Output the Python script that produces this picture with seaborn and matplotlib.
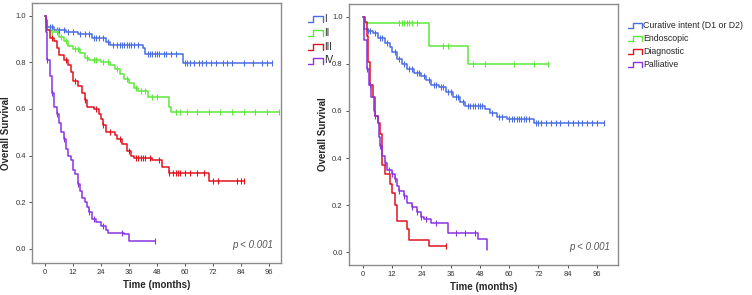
import matplotlib
matplotlib.use("Agg")
import matplotlib.pyplot as plt
import numpy as np
import pandas as pd
import seaborn as sns
from matplotlib.legend_handler import HandlerBase
from matplotlib.lines import Line2D

# ---- left panel: stage ----
stage_labels = ["I", "II", "III", "IV"]
stage_colors = ["#4a6ee0", "#5ee83c", "#e0141e", "#8a35e0"]

stage1_t = [0, 0.5, 4, 9, 14, 20, 26, 28, 42, 43, 59, 97]
stage1_s = [1.0, 0.95, 0.94, 0.93, 0.92, 0.905, 0.885, 0.875, 0.86, 0.835, 0.795, 0.795]
stage1_c = [1, 2, 3, 5, 6, 8, 10, 12, 15, 17, 19, 21, 22, 23, 25, 27, 29, 31, 32, 33, 34, 35, 36, 37, 38,
            40, 44, 45, 46, 47, 48, 49, 51, 52, 54, 56, 60, 61, 62, 64, 66, 67, 69, 71, 73, 76, 78, 80,
            85, 89, 93, 95, 97]

stage2_t = [0, 0.5, 3, 6, 8, 10, 12, 15, 17, 19, 24, 28, 30, 32, 34, 36, 38, 40, 44, 52, 53, 54, 100]
stage2_s = [1.0, 0.94, 0.93, 0.91, 0.89, 0.87, 0.855, 0.84, 0.82, 0.81, 0.80, 0.79, 0.77, 0.75, 0.73,
            0.71, 0.69, 0.675, 0.65, 0.65, 0.61, 0.585, 0.585]
stage2_c = [3, 5, 7, 9, 13, 14, 18, 21, 22, 25, 27, 31, 35, 39, 41, 43, 46, 48, 56, 58, 61, 65, 70,
            75, 80, 85, 90, 95, 100]

stage3_t = [0, 0.5, 1, 2, 4, 5, 6, 8, 10, 11, 12, 14, 16, 17, 18, 21, 23, 24, 25, 26, 30, 31, 33, 35,
            37, 38, 46, 50, 53, 70, 85]
stage3_s = [1.0, 0.98, 0.94, 0.905, 0.89, 0.86, 0.83, 0.81, 0.79, 0.76, 0.72, 0.70, 0.67, 0.64, 0.61,
            0.60, 0.58, 0.555, 0.53, 0.50, 0.49, 0.47, 0.45, 0.42, 0.40, 0.39, 0.38, 0.35, 0.325,
            0.29, 0.29]
stage3_c = [3, 9, 13, 17, 22, 25, 28, 32, 36, 39, 40, 41, 42, 43, 45, 49, 53, 55, 56, 57, 58, 60,
            62, 65, 68, 72, 74, 82, 84, 85]

stage4_t = [0, 0.5, 1, 2, 3, 4, 5, 6, 7, 8, 9, 10, 11, 12, 13, 14, 15, 16, 17, 18, 19, 20, 22, 24, 26,
            27, 34, 36, 47]
stage4_s = [1.0, 0.93, 0.81, 0.74, 0.67, 0.61, 0.58, 0.54, 0.50, 0.47, 0.43, 0.40, 0.38, 0.34, 0.32,
            0.28, 0.25, 0.22, 0.20, 0.18, 0.16, 0.13, 0.115, 0.10, 0.08, 0.07, 0.065, 0.035, 0.035]
stage4_c = [1, 3, 5, 8, 14, 19, 21, 25, 33, 47]

# ---- right panel: treatment ----
treat_labels = ["Curative intent (D1 or D2)", "Endoscopic", "Diagnostic", "Palliative"]
treat_colors = stage_colors

cur_t = [0, 0.5, 2, 4, 6, 9, 11, 12, 14, 16, 18, 21, 24, 26, 28, 31, 34, 37, 40, 42, 50, 52, 55, 59,
         70, 99]
cur_s = [1.0, 0.95, 0.94, 0.93, 0.91, 0.89, 0.87, 0.85, 0.82, 0.80, 0.78, 0.76, 0.75, 0.73, 0.71,
         0.70, 0.68, 0.66, 0.64, 0.62, 0.61, 0.59, 0.575, 0.565, 0.55, 0.55]
cur_c = [2, 3, 5, 7, 8, 10, 13, 15, 17, 19, 20, 22, 23, 25, 27, 29, 30, 32, 33, 35, 36, 38, 39, 41,
         43, 44, 45, 46, 47, 48, 49, 53, 56, 57, 60, 61, 62, 63, 64, 65, 66, 67, 68, 71, 72, 73, 75,
         77, 79, 81, 84, 86, 88, 90, 92, 94, 96, 99]

endo_t = [0, 0.5, 27, 43, 76]
endo_s = [1.0, 0.975, 0.875, 0.80, 0.80]
endo_c = [15, 16, 17, 18, 19, 20, 22, 33, 35, 45, 50, 62, 70, 76]

diag_t = [0, 1, 1.5, 2, 3, 4, 5, 6, 7, 8, 9, 11, 12, 13, 14, 18, 19, 27, 34]
diag_s = [1.0, 0.98, 0.92, 0.81, 0.71, 0.66, 0.58, 0.55, 0.50, 0.37, 0.33, 0.29, 0.25, 0.20, 0.13,
          0.10, 0.05, 0.025, 0.025]
diag_c = [34]

pall_t = [0, 0.5, 1.5, 2.5, 3.5, 4.5, 5, 6, 6.5, 7, 8, 9, 10, 12, 13, 14, 15, 17, 18, 20, 22, 24, 25,
          28, 35, 47, 51]
pall_s = [1.0, 0.90, 0.78, 0.71, 0.66, 0.60, 0.58, 0.55, 0.49, 0.45, 0.41, 0.38, 0.35, 0.33, 0.31,
          0.28, 0.26, 0.24, 0.21, 0.19, 0.17, 0.15, 0.14, 0.125, 0.082, 0.055, 0.01]
pall_c = [1.5, 3, 5, 7, 9, 10.5, 12, 13, 15, 17, 20, 22, 24, 26, 30, 38, 42, 46]

x_ticks = [0, 12, 24, 36, 48, 60, 72, 84, 96]
y_ticks = [0.0, 0.2, 0.4, 0.6, 0.8, 1.0]


class StepHandler(HandlerBase):
    # legend icon drawn as a small step like SPSS does
    def create_artists(self, legend, orig_handle, xd, yd, width, height, fontsize, trans):
        xs = [xd, xd + width * 0.35, xd + width * 0.35, xd + width, xd + width]
        ys = [yd, yd, yd + height, yd + height, yd]
        ln = Line2D(xs, ys, color=orig_handle.get_color(), lw=1.0, transform=trans)
        return [ln]


def km_panel(ax, curves, colors):
    for (t, s, c), col in zip(curves, colors):
        df = pd.DataFrame({"time": t, "surv": s})
        sns.lineplot(data=df, x="time", y="surv", ax=ax, color=col, lw=1.1,
                     drawstyle="steps-post", estimator=None, sort=False, legend=False)
        idx = np.searchsorted(t, c, side="right") - 1
        cs = pd.DataFrame({"time": c, "surv": np.asarray(s)[idx]})
        sns.scatterplot(data=cs, x="time", y="surv", ax=ax, marker="|", s=14,
                        color=col, linewidth=0.8, legend=False, zorder=3)
    ax.set_xticks(x_ticks)
    ax.set_yticks(y_ticks)
    ax.set_yticklabels([f"{v:.1f}" for v in y_ticks])
    ax.tick_params(labelsize=5.5, colors="#333333", length=2.5, width=0.6, pad=2)
    ax.set_xlabel("Time (months)", fontsize=7, fontweight="bold", labelpad=3)
    ax.set_ylabel("Overall Survival", fontsize=7, fontweight="bold", labelpad=3)
    for sp in ax.spines.values():
        sp.set_color("#8c8c8c")
        sp.set_linewidth(1.0)
    ax.text(0.97, 0.05, "p < 0.001", transform=ax.transAxes, ha="right", va="bottom",
            fontsize=7, style="italic", color="#555555")
    return [Line2D([], [], color=c) for c in colors]


sns.set_style("ticks")
plt.rcParams["font.family"] = ["Liberation Sans", "DejaVu Sans"]

fig = plt.figure(figsize=(7.52, 2.95), dpi=100)
ax1 = fig.add_axes([32 / 752, 32 / 295, 249 / 752, 260 / 295])
ax2 = fig.add_axes([349 / 752, 30 / 295, 269 / 752, 261 / 295])

h1 = km_panel(ax1, [(stage1_t, stage1_s, stage1_c), (stage2_t, stage2_s, stage2_c),
                    (stage3_t, stage3_s, stage3_c), (stage4_t, stage4_s, stage4_c)],
              stage_colors)
ax1.set_xlim(-5.5, 101)
ax1.set_ylim(-0.06, 1.054)

h2 = km_panel(ax2, [(cur_t, cur_s, cur_c), (endo_t, endo_s, endo_c),
                    (diag_t, diag_s, diag_c), (pall_t, pall_s, pall_c)],
              treat_colors)
ax2.set_xlim(-5.7, 104.6)
ax2.set_ylim(-0.055, 1.055)

fig.legend(h1, stage_labels, loc="upper left", bbox_to_anchor=(301 / 752, 1 - 7 / 295),
           frameon=False, fontsize=7, handler_map={Line2D: StepHandler()},
           handlelength=1.6, handleheight=0.6, handletextpad=0.1, labelspacing=0.4,
           borderpad=0.2)
fig.legend(h2, treat_labels, loc="upper left", bbox_to_anchor=(622 / 752, 1 - 15 / 295),
           frameon=False, fontsize=6.3, handler_map={Line2D: StepHandler()},
           handlelength=1.6, handleheight=0.6, handletextpad=0.1, labelspacing=0.45,
           borderpad=0.2)

fig.savefig("out.png", dpi=100)
